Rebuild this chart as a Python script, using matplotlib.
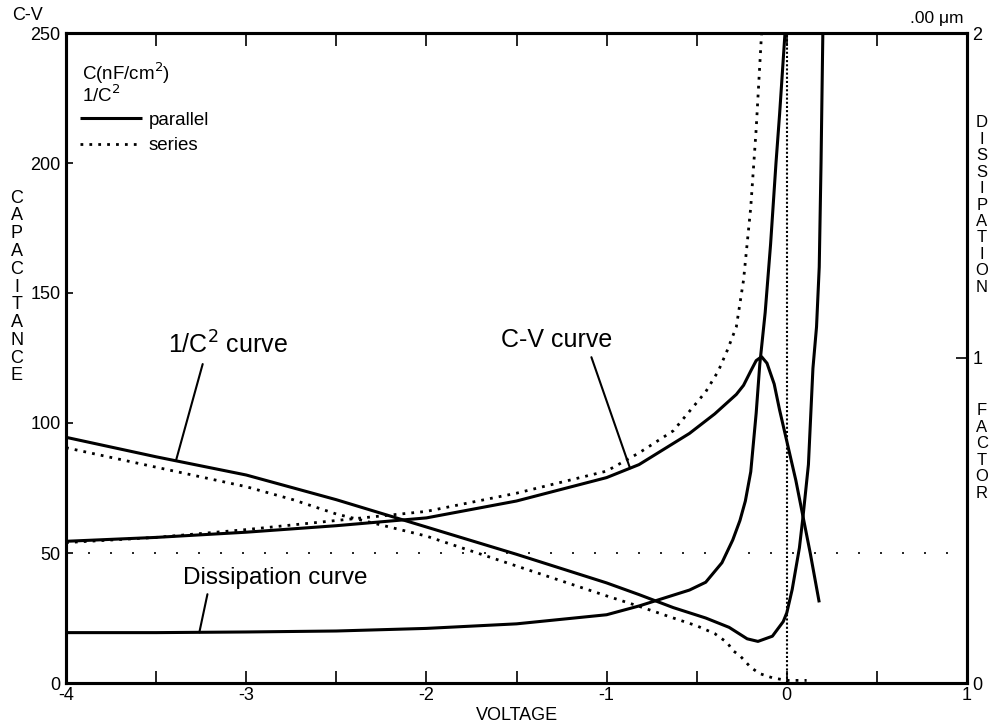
import numpy as np
import matplotlib.pyplot as plt
from matplotlib.lines import Line2D

plt.rcParams['font.family'] = ['Liberation Sans', 'DejaVu Sans']

# C-V, parallel model (nF/cm2)
volt_cv_par = [-4, -3.5, -3, -2.5, -2, -1.5, -1, -0.82, -0.54, -0.4, -0.28, -0.24, -0.2,
               -0.17, -0.14, -0.11, -0.07, -0.04, 0, 0.05, 0.09, 0.13, 0.18]
cap_par = [54.5, 56, 58, 60.5, 63.5, 70, 79, 84, 96, 103.5, 111, 114.5, 120,
           124, 125.5, 123, 115, 105, 93, 78, 64, 50, 31]

# C-V, series model
volt_cv_ser = [-4, -3.5, -3, -2.5, -2, -1.5, -1, -0.82, -0.63, -0.45, -0.38, -0.33, -0.28,
               -0.24, -0.2, -0.17, -0.14]
cap_ser = [54, 56, 59, 62.5, 66, 73, 81.5, 88.5, 97, 112, 120, 128, 137,
           155, 183, 213, 250]

# 1/C^2, parallel
volt_inv_par = [-4, -3.5, -3, -2.5, -2, -1.5, -1, -0.82, -0.63, -0.45, -0.32, -0.22,
                -0.16, -0.08, -0.02, 0, 0.03, 0.07, 0.09, 0.12, 0.145, 0.165, 0.18,
                0.19, 0.2]
inv_par = [94.5, 87, 80, 70.5, 60, 49.5, 38.5, 34, 29, 25, 21.4, 17,
           16, 18, 23.6, 27, 36, 52, 64, 84, 121, 137, 160,
           200, 250]

# 1/C^2, series
volt_inv_ser = [-4, -3.5, -3, -2.74, -2.5, -2, -1.5, -1, -0.82, -0.63, -0.5, -0.4,
                -0.33, -0.3, -0.26, -0.2, -0.15, -0.08, 0, 0.11]
inv_ser = [90.5, 83, 75.5, 70.5, 65, 56.5, 45, 33.5, 29.5, 25, 22, 19,
           15.5, 12.5, 10.5, 6, 3.6, 2, 1, 1]

# dissipation factor (right axis)
volt_diss = [-4, -3.5, -3, -2.5, -2, -1.5, -1, -0.82, -0.54, -0.45, -0.36, -0.3,
             -0.26, -0.23, -0.2, -0.17, -0.15, -0.12, -0.09, -0.06, -0.04, -0.01]
diss = [0.155, 0.155, 0.157, 0.16, 0.168, 0.182, 0.21, 0.237, 0.286, 0.31, 0.37, 0.44,
        0.50, 0.56, 0.65, 0.83, 0.98, 1.14, 1.35, 1.6, 1.75, 2.0]

x_major = [-4, -3, -2, -1, 0, 1]
x_minor = [-3.5, -2.5, -1.5, -0.5, 0.5]
y_left = [0, 50, 100, 150, 200, 250]
y_right = [0, 1, 2]

W, H = 990, 724
fig = plt.figure(figsize=(W / 100, H / 100), dpi=100)
ax = fig.add_axes([66 / W, 1 - 683 / H, (967 - 66) / W, (683 - 33) / H])
ax2 = ax.twinx()

solid = dict(color='black', lw=2.2, solid_capstyle='butt')
dotted = dict(color='black', lw=2.0, ls=(0, (1, 2.2)))

ax.plot(volt_cv_par, cap_par, **solid)
ax.plot(volt_cv_ser, cap_ser, **dotted)
ax.plot(volt_inv_par, inv_par, **solid)
ax.plot(volt_inv_ser, inv_ser, **dotted)
ax2.plot(volt_diss, diss, **solid)

ax.axhline(50, color='black', lw=1.2, ls=(0, (1.2, 12)))
ax.axvline(0, color='black', lw=1.5, ls=(0, (1, 1)))

ax.set_xlim(-4, 1)
ax.set_ylim(0, 250)
ax2.set_ylim(0, 2)

ax.set_xticks(x_major)
ax.set_xticklabels([f'{v:g}' for v in x_major])
ax.set_xticks(x_minor, minor=True)
ax.set_yticks(y_left)
ax.set_yticklabels([str(v) for v in y_left])
ax2.set_yticks(y_right)
ax2.set_yticklabels([str(v) for v in y_right])

ax.tick_params(axis='x', which='both', direction='in', length=9, width=1.2,
               top=True, labelsize=13, pad=3)
ax.tick_params(axis='y', direction='in', length=5, width=1.2, labelsize=13, pad=4)
ax2.tick_params(axis='y', direction='in', length=8, width=1.2, labelsize=13, pad=4)

for a in (ax, ax2):
    for s in a.spines.values():
        s.set_linewidth(2.2)

ax.set_xlabel('VOLTAGE', fontsize=13, labelpad=2)

# legend block
ax.text(0.018, 0.938, 'C(nF/cm$^2$)', transform=ax.transAxes, fontsize=13.5, va='center')
ax.text(0.018, 0.904, '1/C$^2$', transform=ax.transAxes, fontsize=13.5, va='center')
handles = [Line2D([], [], **solid), Line2D([], [], **dotted)]
ax.legend(handles, ['parallel', 'series'], loc='upper left', bbox_to_anchor=(0.016, 0.879),
          frameon=False, fontsize=13.5, handlelength=3.3, handletextpad=0.35,
          borderpad=0, borderaxespad=0, labelspacing=0.45)

# curve labels with leaders
lead = dict(arrowstyle='-', color='black', lw=1.5, shrinkA=2, shrinkB=0)
x1 = -3.39
ax.annotate('1/C$^2$ curve', xy=(x1, np.interp(x1, volt_inv_par, inv_par)),
            xytext=(-3.1, 130), fontsize=18, ha='center', va='center',
            arrowprops=dict(lead, relpos=(0.3, 0)))
x2 = -0.87
ax.annotate('C-V curve', xy=(x2, np.interp(x2, volt_cv_par, cap_par)),
            xytext=(-1.28, 132), fontsize=18, ha='center', va='center',
            arrowprops=dict(lead, relpos=(0.8, 0)))
x3 = -3.26
ax2.annotate('Dissipation curve', xy=(x3, np.interp(x3, volt_diss, diss)),
             xytext=(-2.84, 40.5), textcoords=ax.transData, fontsize=17.5,
             ha='center', va='center', arrowprops=dict(lead, relpos=(0.14, 0)))

# axis titles as stacked letters
fig.text(17 / W, 1 - 287 / H, '\n'.join('CAPACITANCE'), fontsize=13, ha='center',
         va='center', linespacing=1.06)
fig.text(982 / W, 1 - 205 / H, '\n'.join('DISSIPATION'), fontsize=12, ha='center',
         va='center', linespacing=1.12)
fig.text(982 / W, 1 - 452 / H, '\n'.join('FACTOR'), fontsize=12, ha='center',
         va='center', linespacing=1.12)
fig.text(12 / W, 1 - 16 / H, 'C-V', fontsize=13, ha='left', va='center')
fig.text(963 / W, 1 - 19 / H, '.00 \u03bcm', fontsize=12.5, ha='right', va='center')

fig.savefig('out.png', dpi=100)
